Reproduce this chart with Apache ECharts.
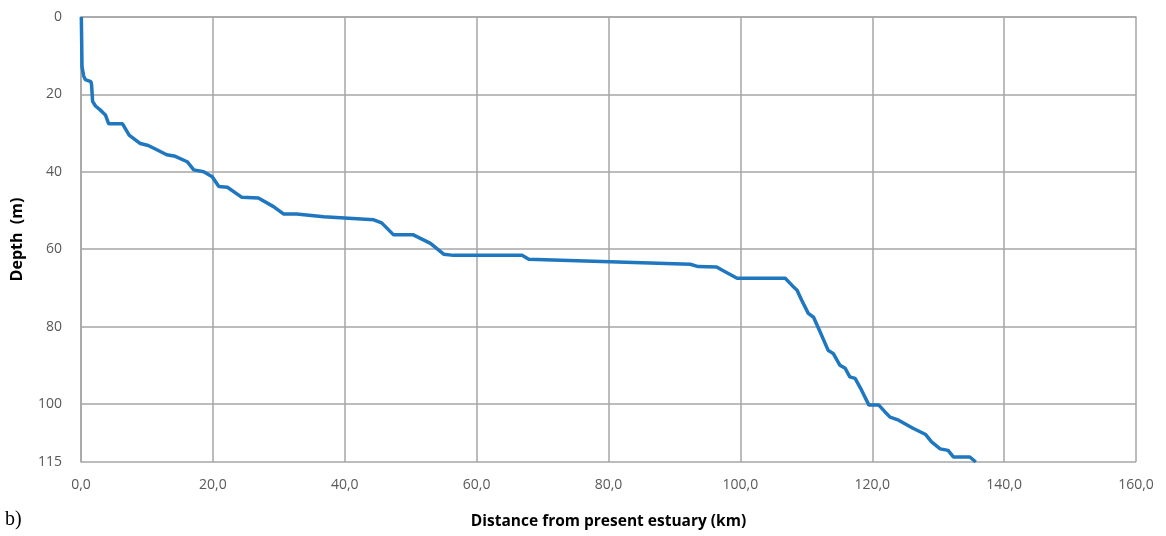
<!DOCTYPE html>
<html>
<head>
<meta charset="utf-8">
<script src="https://cdn.jsdelivr.net/npm/echarts@6/dist/echarts.min.js"></script>
<style>
html,body{margin:0;padding:0;background:#fff;}
#chart{width:1166px;height:536px;}
</style>
</head>
<body>
<div id="chart"></div>
<script>
var distance = [0.05,0.1,0.15,0.4,0.65,1.5,1.6,1.76,2.2,2.9,3.7,4.2,6.3,7.3,9.0,10.2,11.5,13.0,14.3,16.1,17.1,18.6,19.9,20.9,22.2,24.4,26.9,29.2,30.7,32.7,36.8,44.4,45.6,47.4,50.4,53.0,55.0,56.5,66.9,67.9,92.4,93.6,96.4,97.2,99.5,106.8,107.8,108.6,109.3,110.3,111.1,112.1,113.3,114.1,115.1,115.9,116.6,117.4,118.4,119.5,121.0,121.9,122.7,124.0,126.1,128.1,129.0,130.3,131.5,132.3,134.8,135.7];
var depth = [0,6,12.8,15.2,16.2,16.7,17.5,21.8,23,24,25.3,27.6,27.6,30.5,32.7,33.2,34.3,35.6,36,37.4,39.5,40,41.3,43.8,44,46.6,46.8,49,50.9,50.9,51.6,52.4,53.2,56.3,56.3,58.5,61.3,61.6,61.6,62.6,63.9,64.5,64.6,65.4,67.5,67.5,69.3,70.6,73.2,76.6,77.6,81.4,86.1,87,90,90.8,93,93.4,96.5,100.3,100.3,102,103.4,104.2,106.2,107.9,109.8,111.6,112,113.7,113.7,115];
var xTitle = 'Distance from present estuary (km)';
var yTitle = 'Depth  (m)';
var panelLabel = 'b)';

var points = distance.map(function(d, i){ return [d, depth[i]]; });
var chart = echarts.init(document.getElementById('chart'));
var gridColor = '#a6a6a6';
chart.setOption({
  animation: false,
  title: {
    text: panelLabel, left: 0, top: 505,
    textStyle: {fontFamily: 'Liberation Serif', fontSize: 20, fontWeight: 'normal', color: '#000'}
  },
  grid: {left: 81, right: 30, top: 17, bottom: 74},
  xAxis: {
    type: 'value', min: 0, max: 160, interval: 20,
    name: xTitle, nameLocation: 'middle', nameGap: 52,
    nameTextStyle: {fontFamily: 'Open Sans', fontSize: 15.5, fontWeight: 'bold', color: '#000'},
    axisLine: {show: true, lineStyle: {color: gridColor, width: 1.5}},
    axisTick: {show: false},
    axisLabel: {
      fontFamily: 'Open Sans', fontSize: 14, color: '#595959', margin: 16,
      formatter: function(v){ return v.toFixed(1).replace('.', ','); }
    },
    splitLine: {show: true, lineStyle: {color: gridColor, width: 1.5}}
  },
  yAxis: {
    type: 'value', inverse: true, min: 0, max: 115, interval: 20,
    name: yTitle, nameLocation: 'middle', nameGap: 56, nameRotate: 90,
    nameTextStyle: {fontFamily: 'Open Sans', fontSize: 16, fontWeight: 'bold', color: '#000'},
    axisLine: {show: true, lineStyle: {color: gridColor, width: 1.5}},
    axisTick: {show: false},
    axisLabel: {fontFamily: 'Open Sans', fontSize: 14, color: '#595959', margin: 19, showMaxLabel: true},
    splitLine: {show: true, lineStyle: {color: gridColor, width: 1.5}}
  },
  series: [{
    type: 'line',
    data: points,
    showSymbol: false,
    symbol: 'none',
    lineStyle: {color: '#1f77bf', width: 3.5},
    clip: false
  }]
});
</script>
</body>
</html>
